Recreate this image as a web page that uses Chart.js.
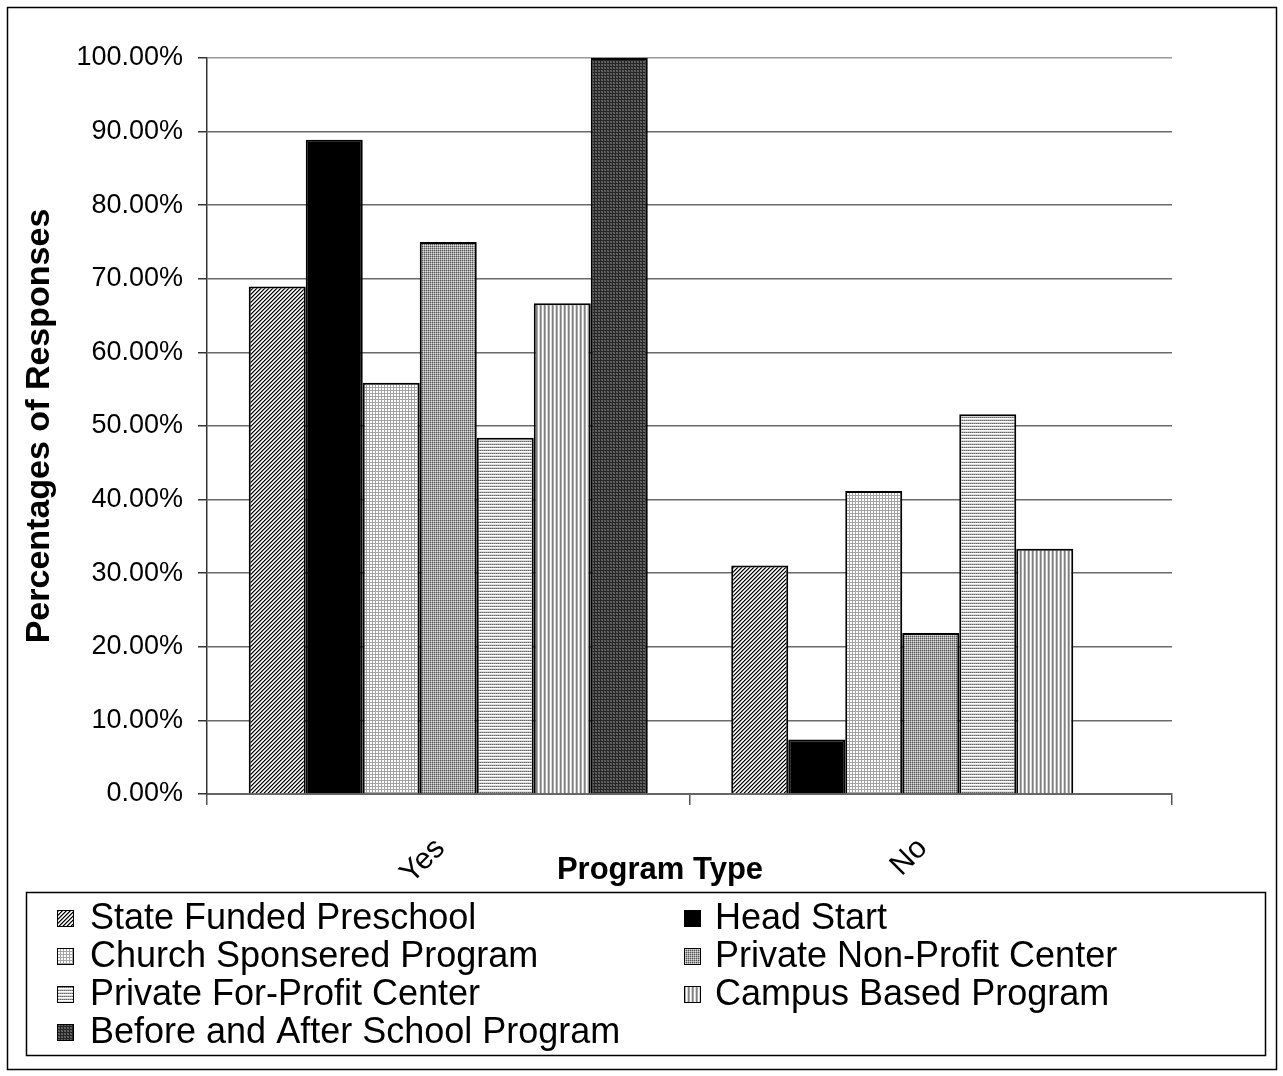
<!DOCTYPE html>
<html>
<head>
<meta charset="utf-8">
<script src="https://cdn.jsdelivr.net/npm/chart.js@4.4.1/dist/chart.umd.min.js"></script>
<style>
  html, body { margin: 0; padding: 0; background: #ffffff; }
  #wrap { width: 1283px; height: 1076px; position: relative; }
</style>
</head>
<body>
<div id="wrap"><canvas id="c" width="1283" height="1076"></canvas></div>
<script>
// ---- data ----
const categories = ['Yes', 'No'];
const seriesNames = [
  'State Funded Preschool',
  'Head Start',
  'Church Sponsered Program',
  'Private Non-Profit Center',
  'Private For-Profit Center',
  'Campus Based Program',
  'Before and After School Program'
];
const stateFunded   = [68.97, 31.03];
const headStart     = [88.89, 7.41];
const churchProgram = [55.88, 41.18];
const nonProfit     = [75.00, 21.88];
const forProfit     = [48.39, 51.61];
const campusBased   = [66.67, 33.33];
const beforeAfter   = [100.00, 0];
const seriesValues = [stateFunded, headStart, churchProgram, nonProfit, forProfit, campusBased, beforeAfter];
const yTicks = [0, 10, 20, 30, 40, 50, 60, 70, 80, 90, 100];

// ---- fill patterns (grayscale, Excel-like) ----
function tile(w, h, fn) {
  const c = document.createElement('canvas');
  c.width = w; c.height = h;
  const g = c.getContext('2d');
  for (let y = 0; y < h; y++) for (let x = 0; x < w; x++) {
    g.fillStyle = fn(x, y);
    g.fillRect(x, y, 1, 1);
  }
  return document.getElementById('c').getContext('2d').createPattern(c, 'repeat');
}
const patterns = [
  tile(4, 4, (x, y) => { const k = (x + y) % 4; return k === 0 ? '#000000' : (k === 1 ? '#7a7a7a' : (k === 2 ? '#ffffff' : '#d0d0d0')); }),
  '#000000',
  tile(3, 3, (x, y) => (x === 0 || y === 0) ? '#a4a4a4' : '#ffffff'),
  tile(2, 2, (x, y) => (x === 0 && y === 0) ? '#555555' : ((x === 1 && y === 1) ? '#dddddd' : '#a4a4a4')),
  tile(2, 3, (x, y) => y === 0 ? (x === 0 ? '#666666' : '#9a9a9a') : (y === 1 ? '#ffffff' : '#dddddd')),
  tile(4, 1, (x) => ['#808080', '#a8a8a8', '#ffffff', '#d8d8d8'][x]),
  tile(3, 3, (x, y) => (x === 0 || y === 0) ? '#262626' : ((x + y) % 2 ? '#555555' : '#686868'))
];

const FONT = "'Liberation Sans', Arial, sans-serif";

// frame, custom legend and x title
const decor = {
  id: 'decor',
  beforeDraw(chart) {
    const ctx = chart.ctx;
    ctx.save();
    ctx.fillStyle = '#ffffff';
    ctx.fillRect(0, 0, chart.width, chart.height);
    ctx.restore();
  },
  afterDraw(chart) {
    const ctx = chart.ctx;
    ctx.save();
    // outer frame
    ctx.strokeStyle = '#000000';
    ctx.lineWidth = 1.5;
    ctx.strokeRect(7.5, 7.5, 1269, 1062);
    // x axis title
    ctx.fillStyle = '#000000';
    ctx.font = "bold 31px " + FONT;
    ctx.textAlign = 'center';
    ctx.textBaseline = 'alphabetic';
    ctx.fillText('Program Type', 660, 879);
    // legend box
    ctx.lineWidth = 1.5;
    ctx.strokeRect(26.5, 892.5, 1239, 163);
    ctx.font = "36px " + FONT;
    ctx.textAlign = 'left';
    ctx.textBaseline = 'middle';
    const rows = [918, 956, 994, 1032];
    chart.data.datasets.forEach((ds, i) => {
      const col = i % 2, row = Math.floor(i / 2);
      const sx = col === 0 ? 57 : 684;
      const tx = col === 0 ? 90 : 715;
      const cy = rows[row];
      ctx.fillStyle = ds.backgroundColor;
      ctx.fillRect(sx, cy - 8, 17, 17);
      ctx.strokeStyle = '#000000';
      ctx.lineWidth = 1;
      ctx.strokeRect(sx + 0.5, cy - 7.5, 16, 16);
      ctx.fillStyle = '#000000';
      ctx.fillText(ds.label, tx, cy + 1);
    });
    ctx.restore();
  }
};

new Chart(document.getElementById('c'), {
  type: 'bar',
  data: {
    labels: categories,
    datasets: seriesNames.map((name, i) => ({
      label: name,
      data: seriesValues[i],
      backgroundColor: patterns[i],
      borderColor: '#000000',
      borderWidth: 2,
      borderSkipped: 'bottom',
      barPercentage: 1.0,
      categoryPercentage: 0.827
    }))
  },
  options: {
    responsive: false,
    animation: false,
    devicePixelRatio: 1,
    layout: { padding: { left: 0, right: 111, top: 58, bottom: 182 } },
    plugins: {
      legend: { display: false },
      tooltip: { enabled: false },
      title: { display: false }
    },
    scales: {
      x: {
        type: 'category',
        offset: true,
        afterFit(scale) { scale.height = 100; },
        grid: {
          display: true,
          offset: true,
          drawOnChartArea: false,
          drawTicks: true,
          tickLength: 11,
          color: '#555555',
          lineWidth: 1.5
        },
        border: { display: true, color: '#666666', width: 2 },
        ticks: {
          minRotation: 45,
          maxRotation: 45,
          padding: 26,
          labelOffset: -8,
          color: '#000000',
          font: { family: FONT, size: 30 }
        }
      },
      y: {
        min: 0,
        max: 100,
        afterFit(scale) { scale.width = 207; },
        afterBuildTicks(scale) { scale.ticks = yTicks.map(v => ({ value: v })); },
        grid: {
          color: (c) => c.tick && c.tick.value === 100 ? '#999999' : '#6a6a6a',
          lineWidth: 1.5,
          drawTicks: true,
          tickLength: 9,
          tickColor: '#333333'
        },
        border: { display: true, color: '#333333', width: 1.5 },
        ticks: {
          padding: 15,
          color: '#000000',
          font: { family: FONT, size: 27 },
          callback: (v) => Number(v).toFixed(2) + '%'
        },
        title: {
          display: true,
          text: 'Percentages of Responses',
          color: '#000000',
          font: { family: FONT, size: 34, weight: 'bold' },
          padding: { top: 19, bottom: 0 }
        }
      }
    }
  },
  plugins: [decor]
});
</script>
</body>
</html>
